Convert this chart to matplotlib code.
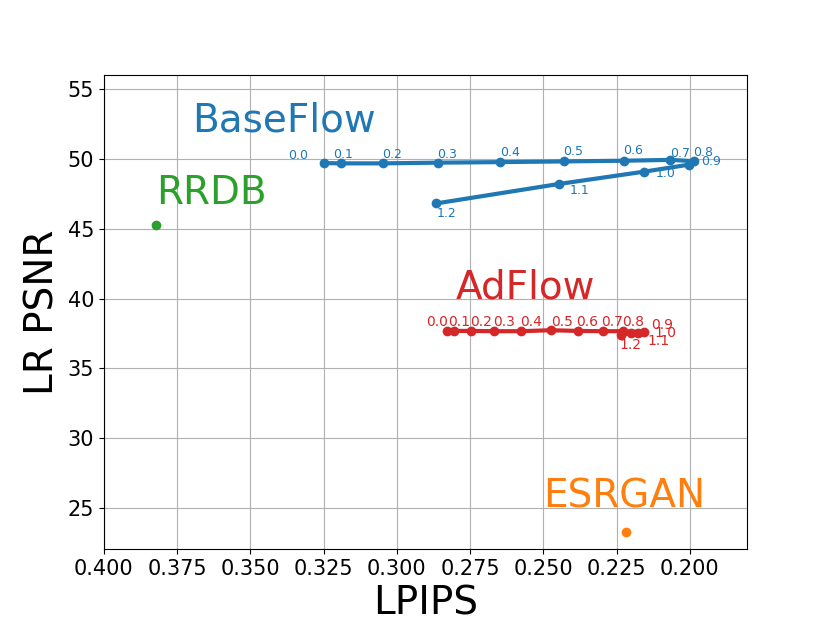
import matplotlib
matplotlib.use('Agg')
import matplotlib.pyplot as plt

# temperature / scale values used as point labels
scales = ['0.0', '0.1', '0.2', '0.3', '0.4', '0.5', '0.6',
          '0.7', '0.8', '0.9', '1.0', '1.1', '1.2']

baseflow_lpips = [0.3247, 0.3189, 0.3047, 0.2860, 0.2649, 0.2431, 0.2226,
                  0.2068, 0.1986, 0.2002, 0.2158, 0.2448, 0.2865]
baseflow_psnr = [49.72, 49.70, 49.70, 49.75, 49.79, 49.84, 49.89,
                 49.95, 49.86, 49.61, 49.10, 48.22, 46.83]

adflow_lpips = [0.2828, 0.2805, 0.2748, 0.2669, 0.2575, 0.2475, 0.2383,
                0.2298, 0.2228, 0.2157, 0.2177, 0.2201, 0.2235]
adflow_psnr = [37.69, 37.69, 37.69, 37.67, 37.67, 37.74, 37.69,
               37.67, 37.67, 37.60, 37.56, 37.52, 37.41]

rrdb_lpips, rrdb_psnr = 0.3822, 45.31
esrgan_lpips, esrgan_psnr = 0.2218, 23.29

# label offsets (pixels) for each point label
baseflow_offsets = [(-36, 4), (-8, 5), (-1, 5), (-1, 5), (0, 6), (0, 6), (0, 7),
                    (0, 3), (-1, 5), (12, 0), (12, -5), (11, -10), (0, -14)]
adflow_offsets = [(-21, 5), (-6, 5), (-1, 5), (-1, 5), (-1, 5), (0, 4), (-1, 5),
                  (-1, 5), (-1, 5), (7, 3), (16, -4), (16, -12), (-2, -14)]

fig, ax = plt.subplots(figsize=(8.3, 6.29), dpi=100)
fig.subplots_adjust(left=0.125, right=0.9, top=0.88, bottom=0.127)

ax.plot(baseflow_lpips, baseflow_psnr, 'o-', color='tab:blue', lw=3, ms=6)
for s, x, y, off in zip(scales, baseflow_lpips, baseflow_psnr, baseflow_offsets):
    ax.annotate(s, (x, y), xytext=off, textcoords='offset pixels',
                color='tab:blue', fontsize=9, ha='left', va='baseline')

ax.plot(adflow_lpips, adflow_psnr, 'o-', color='tab:red', lw=3, ms=6)
for s, x, y, off in zip(scales, adflow_lpips, adflow_psnr, adflow_offsets):
    ax.annotate(s, (x, y), xytext=off, textcoords='offset pixels',
                color='tab:red', fontsize=10, ha='left', va='baseline')

ax.plot([rrdb_lpips], [rrdb_psnr], 'o', color='tab:green', ms=6)
ax.plot([esrgan_lpips], [esrgan_psnr], 'o', color='tab:orange', ms=6)

# method names
ax.text(0.37, 52, 'BaseFlow', color='tab:blue', fontsize=28)
ax.text(rrdb_lpips, rrdb_psnr + 1.5, 'RRDB', color='tab:green', fontsize=28)
ax.text(0.28, 40, 'AdFlow', color='tab:red', fontsize=28)
ax.text(0.25, 25, 'ESRGAN', color='tab:orange', fontsize=28)

ax.set_xlim(0.400, 0.1805)
ax.set_ylim(22.05, 56.0)
ax.set_xticks([0.400, 0.375, 0.350, 0.325, 0.300, 0.275, 0.250, 0.225, 0.200])
ax.set_xticklabels(['%.3f' % v for v in ax.get_xticks()])
ax.set_yticks([25, 30, 35, 40, 45, 50, 55])
ax.tick_params(labelsize=15)
ax.grid(True)
ax.set_xlabel('LPIPS', fontsize=28)
ax.set_ylabel('LR PSNR', fontsize=28)

fig.savefig('out.png', dpi=100)
